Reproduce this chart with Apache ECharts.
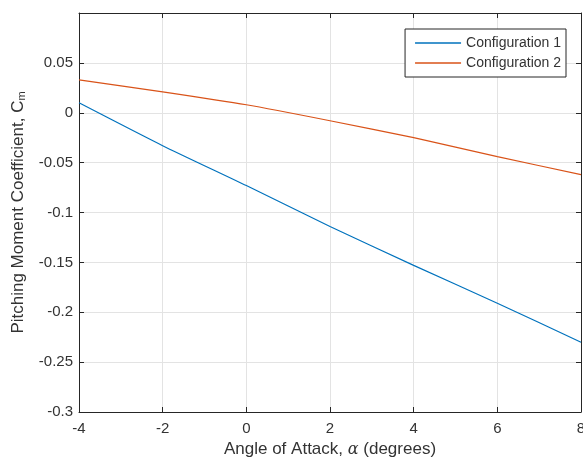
<!DOCTYPE html>
<html>
<head>
<meta charset="utf-8">
<script src="https://cdn.jsdelivr.net/npm/echarts@6/dist/echarts.min.js"></script>
<style>
  html, body { margin: 0; padding: 0; background: #fff; }
  #chart { width: 583px; height: 461px; }
</style>
</head>
<body>
<div id="chart"></div>
<script>
// angle of attack (deg)
var alpha = [-4, -2, 0, 2, 4, 6, 8];
// pitching moment coefficient
var cmConfig1 = [0.010, -0.033, -0.073, -0.114, -0.153, -0.191, -0.230];
var cmConfig2 = [0.033, 0.021, 0.008, -0.008, -0.025, -0.044, -0.062];
var seriesNames = ['Configuration 1', 'Configuration 2'];

var textCol = '#333333';
var lineCol = '#262626';
var gridCol = '#e3e3e3';
var font = 'Liberation Sans, Arial, sans-serif';

function pairs(xs, ys) {
    var d = [];
    for (var i = 0; i < xs.length; i++) {
        d.push([xs[i], ys[i]]);
    }
    return d;
}

var myChart = echarts.init(document.getElementById('chart'));

// top / right box edges with inward ticks, like matlab "box on"
var boxAxis = {
    axisLine: {show: true, onZero: false, lineStyle: {color: lineCol, width: 1}},
    axisTick: {show: true, inside: true, length: 5, lineStyle: {color: lineCol}},
    axisLabel: {show: false},
    splitLine: {show: false}
};

var option = {
    animation: false,
    grid: {left: 79, right: 2, top: 13, bottom: 49, outerBoundsMode: 'none', containLabel: false},
    legend: {
        orient: 'vertical',
        right: 17,
        top: 29,
        data: seriesNames,
        icon: 'rect',
        itemWidth: 46,
        itemHeight: 1.3,
        itemGap: 4,
        padding: [6, 5, 6, 10],
        borderColor: lineCol,
        borderWidth: 1,
        borderRadius: 0,
        backgroundColor: '#fff',
        textStyle: {color: textCol, fontSize: 14, fontFamily: font, lineHeight: 16}
    },
    xAxis: [
        {
            type: 'value', min: -4, max: 8, interval: 2,
            name: '{n|Angle of Attack, }{g|α}{n| (degrees)}',
            nameLocation: 'middle',
            nameGap: 28,
            nameTextStyle: {
                rich: {
                    n: {fontSize: 17, color: textCol, fontFamily: font},
                    g: {fontSize: 16, color: textCol, fontStyle: 'italic', fontFamily: 'DejaVu Serif, serif'}
                }
            },
            axisLine: {onZero: false, lineStyle: {color: lineCol}},
            axisTick: {inside: true, length: 5, lineStyle: {color: lineCol}},
            axisLabel: {color: textCol, fontSize: 15, margin: 9, fontFamily: font},
            splitLine: {show: true, lineStyle: {color: gridCol}}
        },
        Object.assign({type: 'value', min: -4, max: 8, interval: 2, position: 'top'}, boxAxis)
    ],
    yAxis: [
        {
            type: 'value', min: -0.3, max: 0.1, interval: 0.05,
            name: '{n|Pitching Moment Coefficient, C}{s|m}',
            nameLocation: 'middle',
            nameGap: 50,
            nameTextStyle: {
                rich: {
                    n: {fontSize: 17, color: textCol, fontFamily: font},
                    s: {fontSize: 11, color: textCol, verticalAlign: 'bottom', padding: [9, 0, 0, 0], fontFamily: font}
                }
            },
            axisLine: {onZero: false, lineStyle: {color: lineCol}},
            axisTick: {inside: true, length: 5, lineStyle: {color: lineCol}},
            axisLabel: {
                color: textCol, fontSize: 15, margin: 6,
                fontFamily: font,
                formatter: function (v) {
                    if (Math.abs(v - 0.1) < 1e-9) return '';
                    return String(Math.round(v * 100) / 100);
                }
            },
            splitLine: {show: true, lineStyle: {color: gridCol}}
        },
        Object.assign({type: 'value', min: -0.3, max: 0.1, interval: 0.05, position: 'right'}, boxAxis)
    ],
    series: [
        {
            name: seriesNames[0],
            type: 'line',
            symbol: 'none',
            smooth: 0.2,
            lineStyle: {color: '#0072BD', width: 1.2},
            itemStyle: {color: '#0072BD'},
            data: pairs(alpha, cmConfig1)
        },
        {
            name: seriesNames[1],
            type: 'line',
            symbol: 'none',
            smooth: 0.2,
            lineStyle: {color: '#D95319', width: 1.2},
            itemStyle: {color: '#D95319'},
            data: pairs(alpha, cmConfig2)
        }
    ]
};

myChart.setOption(option);
</script>
</body>
</html>
